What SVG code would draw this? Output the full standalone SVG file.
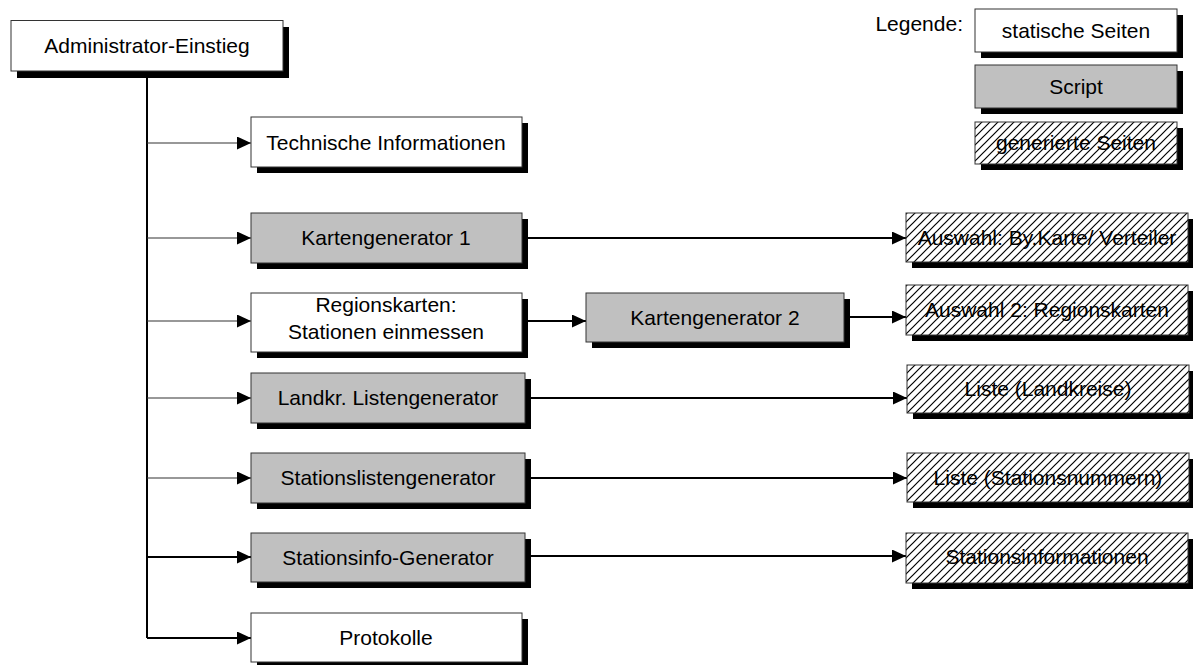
<svg xmlns="http://www.w3.org/2000/svg" width="1193" height="665" viewBox="0 0 1193 665">
<style>
  text { font-family: "Liberation Sans", Arial, sans-serif; font-size: 21px; fill: #000; text-anchor: middle; }
  .sh { fill: #000; }
  .st { fill: #fff; stroke: #333; stroke-width: 1; }
  .sc { fill: #c0c0c0; stroke: #333; stroke-width: 1; }
  .gen { fill: url(#hatch); stroke: #333; stroke-width: 1; }
  .thin { stroke: #333; stroke-width: 1.2; fill: none; }
  .thick { stroke: #000; stroke-width: 2; fill: none; }
</style>
<defs>
  <pattern id="hatch" patternUnits="userSpaceOnUse" width="8" height="8">
    <rect width="8" height="8" fill="#fff"/>
    <path d="M0,8 L8,0 M-2,2 L2,-2 M6,10 L10,6" stroke="#000" stroke-width="1.2"/>
  </pattern>
  <marker id="arr" markerUnits="userSpaceOnUse" markerWidth="14" markerHeight="13" refX="14" refY="6.5" orient="auto">
    <path d="M0,0 L14,6.5 L0,13 Z" fill="#000"/>
  </marker>
</defs>
<rect width="1193" height="665" fill="#fff"/>

<g id="connectors">
  <path class="thick" d="M147,71 V638"/>
  <path class="thin" d="M147,143 H251" marker-end="url(#arr)"/>
  <path class="thin" d="M147,238 H251" marker-end="url(#arr)"/>
  <path class="thin" d="M147,321 H251" marker-end="url(#arr)"/>
  <path class="thin" d="M147,398 H251" marker-end="url(#arr)"/>
  <path class="thin" d="M147,478 H251" marker-end="url(#arr)"/>
  <path class="thick" d="M147,557 H251" marker-end="url(#arr)"/>
  <path class="thick" d="M147,638 H251" marker-end="url(#arr)"/>
  <path class="thick" d="M528,238 H906" marker-end="url(#arr)"/>
  <path class="thick" d="M528,321 H586" marker-end="url(#arr)"/>
  <path class="thick" d="M850,317 H906" marker-end="url(#arr)"/>
  <path class="thick" d="M531,398 H907" marker-end="url(#arr)"/>
  <path class="thick" d="M531,478 H907" marker-end="url(#arr)"/>
  <path class="thick" d="M531,556 H906" marker-end="url(#arr)"/>
</g>

<g id="admin">
  <rect class="sh" x="17" y="27" width="272" height="51"/>
  <rect class="st" x="11" y="20.5" width="272" height="50.5"/>
  <text x="147" y="53">Administrator-Einstieg</text>
</g>

<g id="technische">
  <rect class="sh" x="257" y="123" width="271" height="50"/>
  <rect class="st" x="251" y="117" width="271" height="50"/>
  <text x="386" y="150">Technische Informationen</text>
</g>

<g id="kartengenerator1">
  <rect class="sh" x="257" y="219" width="271" height="50"/>
  <rect class="sc" x="251" y="213" width="271" height="50"/>
  <text x="386" y="245">Kartengenerator 1</text>
</g>

<g id="regionskarten">
  <rect class="sh" x="257" y="299" width="271" height="59"/>
  <rect class="st" x="251" y="293" width="271" height="59"/>
  <text x="386" y="312">Regionskarten:</text>
  <text x="386" y="339">Stationen einmessen</text>
</g>

<g id="kartengenerator2">
  <rect class="sh" x="592" y="299" width="258" height="49"/>
  <rect class="sc" x="586" y="293" width="258" height="49"/>
  <text x="715" y="325">Kartengenerator 2</text>
</g>

<g id="landkr">
  <rect class="sh" x="257" y="379" width="274" height="50"/>
  <rect class="sc" x="251" y="373" width="274" height="50"/>
  <text x="388" y="405">Landkr. Listengenerator</text>
</g>

<g id="stationsliste">
  <rect class="sh" x="257" y="459" width="274" height="50"/>
  <rect class="sc" x="251" y="453" width="274" height="50"/>
  <text x="388" y="485">Stationslistengenerator</text>
</g>

<g id="stationsinfo">
  <rect class="sh" x="257" y="539" width="274" height="49"/>
  <rect class="sc" x="251" y="533" width="274" height="49"/>
  <text x="388" y="565">Stationsinfo-Generator</text>
</g>

<g id="protokolle">
  <rect class="sh" x="257" y="619" width="271" height="49"/>
  <rect class="st" x="251" y="613" width="271" height="49"/>
  <text x="386" y="645">Protokolle</text>
</g>

<g id="auswahl1">
  <rect class="sh" x="912" y="219" width="282" height="49"/>
  <rect class="gen" x="906" y="213" width="282" height="49"/>
  <text x="1047" y="245">Auswahl: By.Karte/ Verteiler</text>
</g>

<g id="auswahl2">
  <rect class="sh" x="912" y="291" width="282" height="50"/>
  <rect class="gen" x="906" y="285" width="282" height="50"/>
  <text x="1047" y="317">Auswahl 2: Regionskarten</text>
</g>

<g id="liste-landkreise">
  <rect class="sh" x="913" y="371" width="282" height="48"/>
  <rect class="gen" x="907" y="365" width="282" height="48"/>
  <text x="1048" y="396">Liste (Landkreise)</text>
</g>

<g id="liste-stationsnummern">
  <rect class="sh" x="913" y="459" width="282" height="49"/>
  <rect class="gen" x="907" y="453" width="282" height="49"/>
  <text x="1048" y="485">Liste (Stationsnummern)</text>
</g>

<g id="stationsinformationen">
  <rect class="sh" x="912" y="539" width="282" height="50"/>
  <rect class="gen" x="906" y="533" width="282" height="50"/>
  <text x="1047" y="564">Stationsinformationen</text>
</g>

<g id="legende">
  <text x="963" y="31" style="text-anchor:end">Legende:</text>
  <rect class="sh" x="981" y="15" width="202" height="43"/>
  <rect class="st" x="975" y="9" width="202" height="43"/>
  <text x="1076" y="38">statische Seiten</text>
  <rect class="sh" x="981" y="71" width="202" height="43"/>
  <rect class="sc" x="975" y="65" width="202" height="43"/>
  <text x="1076" y="94">Script</text>
  <rect class="sh" x="981" y="128" width="202" height="42"/>
  <rect class="gen" x="975" y="122" width="202" height="42"/>
  <text x="1076" y="150">generierte Seiten</text>
</g>
</svg>
